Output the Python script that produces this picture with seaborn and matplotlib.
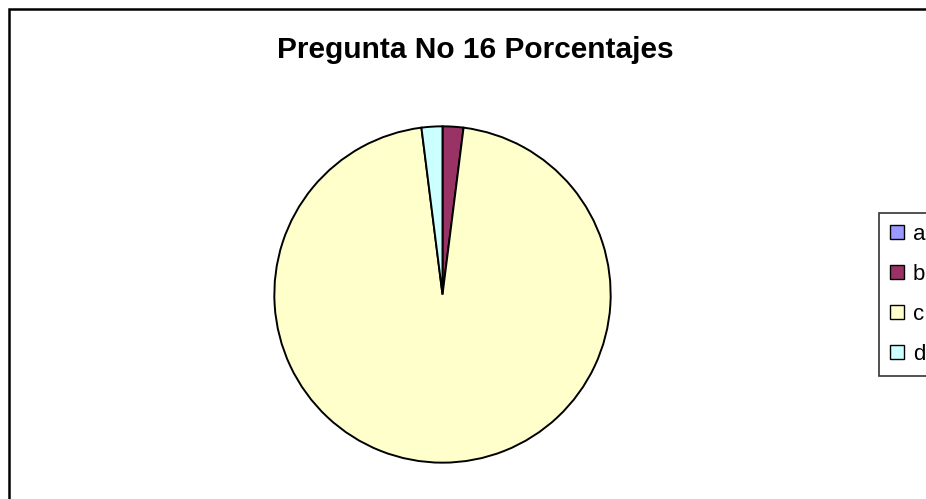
import matplotlib
matplotlib.use("Agg")
import matplotlib.pyplot as plt
import seaborn as sns
from matplotlib.patches import Rectangle, Patch

sns.set_theme(style="white")
plt.rcParams['font.family'] = ['Liberation Sans', 'DejaVu Sans']
plt.rcParams['text.color'] = 'black'

categories = ["a", "b", "c", "d"]
values = [0, 2, 96, 2]
colors = ["#9999FF", "#993366", "#FFFFCC", "#CCFFFF"]
title = "Pregunta No 16 Porcentajes"

W, H = 926, 499
fig = plt.figure(figsize=(W / 100, H / 100), dpi=100)
fig.patch.set_facecolor("white")

cx, cy, r = 442.5, 294.5, 169
ax = fig.add_axes([(cx - r) / W, (H - cy - r) / H, 2 * r / W, 2 * r / H])
wedges, _ = ax.pie(values, colors=colors, startangle=90, counterclock=False,
                   wedgeprops=dict(edgecolor="black", linewidth=1.4))
ax.set_xlim(-1.005, 1.005)
ax.set_ylim(-1.005, 1.005)
ax.set_aspect("equal")
ax.axis("off")

# outer chart border (extends beyond the right and bottom edges)
fig.add_artist(Rectangle((9 / W, -0.1), 1.2, (H - 9.5) / H + 0.1,
                         transform=fig.transFigure, fill=False,
                         edgecolor="black", linewidth=1.8))

fig.text(475 / W, 1 - 58 / H, title, ha="center", va="baseline",
         fontsize=21.5, fontweight="bold", color="black")

handles = [Patch(facecolor=c, edgecolor="black", linewidth=1.0) for c in colors]
leg = fig.legend(handles, categories, loc="upper left",
                 bbox_to_anchor=(879 / W, 1 - 213 / H),
                 fontsize=16, frameon=True, fancybox=False,
                 edgecolor="black", handlelength=0.62, handleheight=0.62,
                 handletextpad=0.4, labelspacing=0.85, borderpad=0.5,
                 borderaxespad=0)
leg.get_frame().set_linewidth(1.2)
for t in leg.get_texts():
    t.set_color("black")

fig.savefig("out.png", dpi=100, facecolor="white")
